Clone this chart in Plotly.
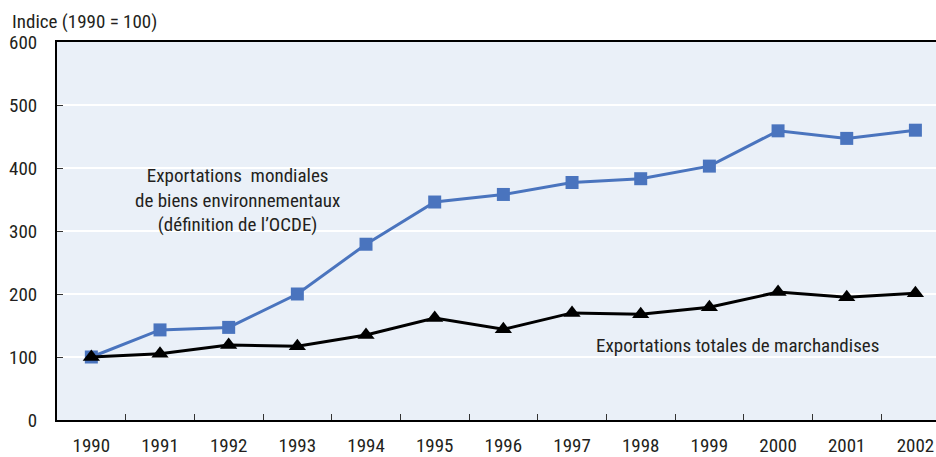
import plotly.graph_objects as go

years = ["1990", "1991", "1992", "1993", "1994", "1995", "1996", "1997", "1998", "1999", "2000", "2001", "2002"]
env_goods = [100, 143, 147, 200, 279, 346, 358, 377, 383, 403, 459, 447, 460]
total_merch = [100, 105, 119, 117, 135, 162, 144, 170, 168, 179, 203, 195, 201]

FONT = "Liberation Sans Narrow, Roboto Condensed, Arial Narrow, Liberation Sans, sans-serif"
TXT = "#231f20"

fig = go.Figure()
fig.add_trace(go.Scatter(x=years, y=env_goods, mode="lines+markers",
                         line=dict(color="#4A74BE", width=3),
                         marker=dict(symbol="square", size=13, color="#4A74BE"),
                         showlegend=False))
fig.add_trace(go.Scatter(x=years, y=total_merch, mode="lines+markers",
                         line=dict(color="black", width=3),
                         marker=dict(symbol="triangle-up", size=15, color="black"),
                         showlegend=False))

fig.add_annotation(x=2.13, y=349, xref="x", yref="y", showarrow=False,
                   text="Exportations  mondiales<br>de biens environnementaux<br>(définition de l’OCDE)",
                   align="center", font=dict(size=19, color=TXT, family=FONT))
fig.add_annotation(x=9.41, y=119, xref="x", yref="y", showarrow=False,
                   text="Exportations totales de marchandises",
                   font=dict(size=19, color=TXT, family=FONT))
fig.add_annotation(x=-0.0535, y=1.053, xref="paper", yref="paper",
                   xanchor="left", yanchor="middle", showarrow=False,
                   text="Indice (1990 = 100)",
                   font=dict(size=19, color=TXT, family=FONT))

fig.update_layout(
    width=936, height=457,
    margin=dict(l=57, r=0, t=42, b=37, pad=0, autoexpand=False),
    paper_bgcolor="white", plot_bgcolor="#EAF0F8",
    font=dict(family=FONT, size=19, color=TXT),
    xaxis=dict(type="category", range=[-0.5, 12.3], tickson="boundaries",
               ticks="inside", ticklen=6, tickcolor="#333", showgrid=False,
               showline=True, linecolor="black", linewidth=2, mirror=True,
               ticklabelstandoff=7, automargin=False),
    yaxis=dict(range=[0, 600], tickvals=[0, 100, 200, 300, 400, 500, 600],
               ticks="inside", ticklen=6, tickcolor="#333",
               showgrid=True, gridcolor="white", gridwidth=2,
               showline=True, linecolor="black", linewidth=2,
               zeroline=False, ticklabelstandoff=14, automargin=False),
)
fig.write_html("out.html", config={"displayModeBar": False},
               post_script="document.body.style.margin='0';document.body.style.overflow='hidden';")
